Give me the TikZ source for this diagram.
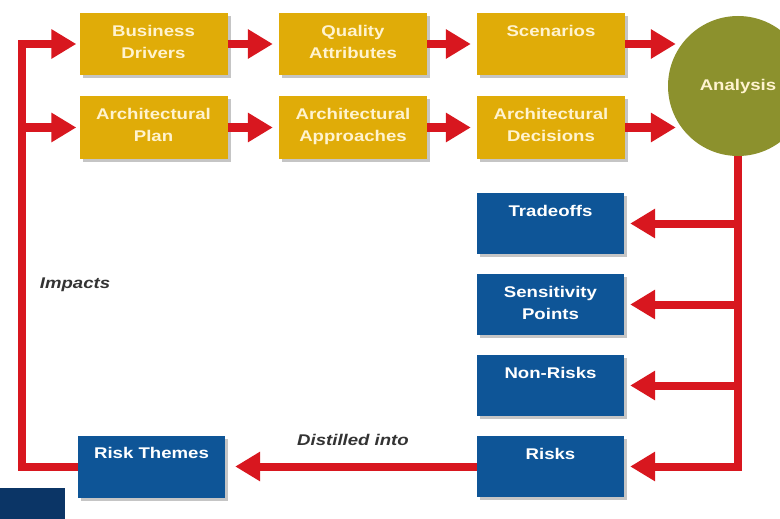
\documentclass[tikz,border=0pt]{standalone}
\usepackage{fontspec}
\usepackage{xcolor}
\usepackage{tikz}
\usetikzlibrary{arrows.meta,shadows}
\setmainfont{Liberation Sans}[FakeStretch=1.2]

\definecolor{boxyellow}{HTML}{E0AC08}
\definecolor{textcream}{HTML}{FFF3CF}
\definecolor{boxblue}{HTML}{0E5597}
\definecolor{navyblue}{HTML}{0B3566}
\definecolor{olive}{HTML}{8C912D}
\definecolor{arrowred}{HTML}{D8171F}

\tikzset{
    ybox/.style={fill=boxyellow, minimum width=148, minimum height=62, inner sep=0,
        drop shadow={shadow xshift=3pt, shadow yshift=-3pt, fill=black!45}},
    bbox/.style={fill=boxblue, minimum width=147, minimum height=61, inner sep=0,
        drop shadow={shadow xshift=3pt, shadow yshift=-3pt, fill=black!45}},
    ytext/.style={anchor=north, yshift=-12pt, inner sep=0, align=center, text=textcream,
        font=\fontsize{15.5}{22}\selectfont\bfseries},
    btext/.style={ytext, text=white},
    redarrow/.style={draw=arrowred, line width=8pt, line join=miter,
        -{Triangle[length=25pt,width=28pt]}, shorten >=6pt},
    note/.style={text=black!80, font=\fontsize{15.5}{18}\selectfont\bfseries\itshape}
}

\begin{document}
\begin{tikzpicture}[x=1pt,y=-1pt]
        \useasboundingbox (0,0) rectangle (780,519);
        % Top rows
        \node[ybox, label={[ytext]north:Business\\Drivers}] (bd) at (153.5,44) {};
        \node[ybox, label={[ytext]north:Quality\\Attributes}] (qa) at (353,44) {};
        \node[ybox, label={[ytext]north:Scenarios}] (sc) at (551,44) {};
        \node[ybox, label={[ytext]north:Architectural\\Plan}] (pl) at (153.5,127.5) {};
        \node[ybox, label={[ytext]north:Architectural\\Approaches}] (ap) at (353,127.5) {};
        \node[ybox, label={[ytext]north:Architectural\\Decisions}] (ad) at (551,127.5) {};
        \node[circle, fill=olive, minimum size=140, inner sep=0, text=textcream,
            font=\fontsize{15.5}{18}\selectfont\bfseries] (an) at (738,86) {Analysis};
        % Outputs
        \node[bbox, label={[btext]north:Tradeoffs}] (tr) at (550.5,223.5) {};
        \node[bbox, label={[btext]north:Sensitivity\\Points}] (sp) at (550.5,304.5) {};
        \node[bbox, label={[btext]north:Non-Risks}] (nr) at (550.5,385.5) {};
        \node[bbox, label={[btext]north:Risks}] (rk) at (550.5,466.5) {};
        \node[bbox, minimum height=62, label={[btext]north:Risk Themes}] (rt) at (151.5,466.5) {};
        \fill[navyblue] (0,488) rectangle (65,519);
        \node[note] (im) at (75,285) {Impacts};
        \node[note] (di) at (353,440) {Distilled into};

        % Arrows
        \draw[redarrow] (bd) -- (qa);
        \draw[redarrow] (qa) -- (sc);
        \draw[redarrow] (pl) -- (ap);
        \draw[redarrow] (ap) -- (ad);
        \draw[redarrow, shorten >=-8pt] (sc.east) -- (sc.east -| an.west);
        \draw[redarrow, shorten >=-8pt] (ad.east) -- (ad.east -| an.west);
        \draw[redarrow] (an.south) |- (rk.east);
        \draw[redarrow] (an.south |- tr.east) -- (tr.east);
        \draw[redarrow] (an.south |- sp.east) -- (sp.east);
        \draw[redarrow] (an.south |- nr.east) -- (nr.east);
        \draw[redarrow, shorten >=10pt] (rk.west) -- (rt.east);
        \coordinate (lc) at (22,44);
        \draw[redarrow, shorten >=3pt] (rt.west) -| (lc) -- (bd.west);
        \draw[redarrow, shorten >=3pt] (lc |- pl.west) -- (pl.west);
\end{tikzpicture}
\end{document}
